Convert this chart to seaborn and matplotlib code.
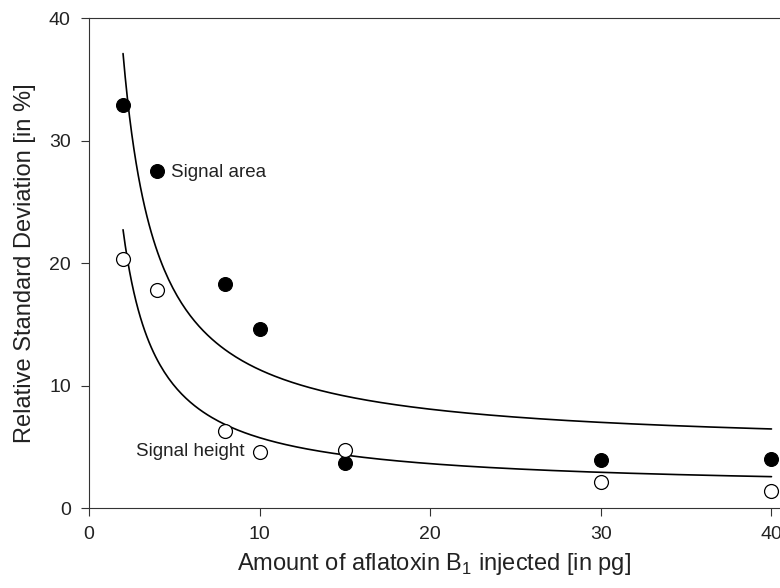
import numpy as np
import matplotlib
matplotlib.use("Agg")
import matplotlib.pyplot as plt
import seaborn as sns

# DATA
amount = [2, 4, 8, 10, 15, 30, 40]
rsd_area = [32.9, 27.5, 18.3, 14.6, 3.7, 3.9, 4.0]
rsd_height = [20.3, 17.8, 6.3, 4.6, 4.7, 2.1, 1.4]

sns.set_style("ticks")
plt.rcParams['font.family'] = ['Liberation Sans', 'DejaVu Sans']
plt.rcParams['mathtext.fontset'] = 'custom'
plt.rcParams['mathtext.rm'] = 'Liberation Sans'

fig = plt.figure(figsize=(7.8, 5.88), dpi=100)
ax = fig.add_axes([0.114, 0.136, 0.886, 0.833])

# hyperbolic fit y = a + b/x, least squares on the points
xs = np.linspace(2, 40, 300)
for y in (rsd_area, rsd_height):
    b, a = np.polyfit(1 / np.array(amount, dtype=float), y, 1)
    sns.lineplot(x=xs, y=a + b / xs, color="black", linewidth=1.2, ax=ax)

sns.scatterplot(x=amount, y=rsd_area, s=100, color="black", edgecolor="black",
                linewidth=0.8, ax=ax, zorder=3)
sns.scatterplot(x=amount, y=rsd_height, s=100, facecolor="white", edgecolor="black",
                linewidth=0.9, ax=ax, zorder=3)

ax.text(4.8, 27.4, "Signal area", fontsize=13.5, ha="left", va="center", color="#222222")
ax.text(9.1, 4.6, "Signal height", fontsize=13.5, ha="right", va="center", color="#222222")

ax.set_xlim(0, 40.5)
ax.set_ylim(0, 40)
ax.set_xticks([0, 10, 20, 30, 40])
ax.set_yticks([0, 10, 20, 30, 40])
ax.tick_params(direction="out", length=6, width=0.8, labelsize=14, pad=7,
               color="#333333", labelcolor="#222222")
ax.set_xlabel("Amount of aflatoxin B$_\\mathregular{1}$ injected [in pg]", fontsize=17,
              labelpad=6, color="#222222")
ax.set_ylabel("Relative Standard Deviation [in %]", fontsize=17, labelpad=9, color="#222222")
for side in ("left", "bottom", "top"):
    ax.spines[side].set_linewidth(0.8)
    ax.spines[side].set_color("#333333")
ax.spines["right"].set_visible(False)
ax.spines["top"].set_visible(True)

fig.savefig("out.png", dpi=100)
